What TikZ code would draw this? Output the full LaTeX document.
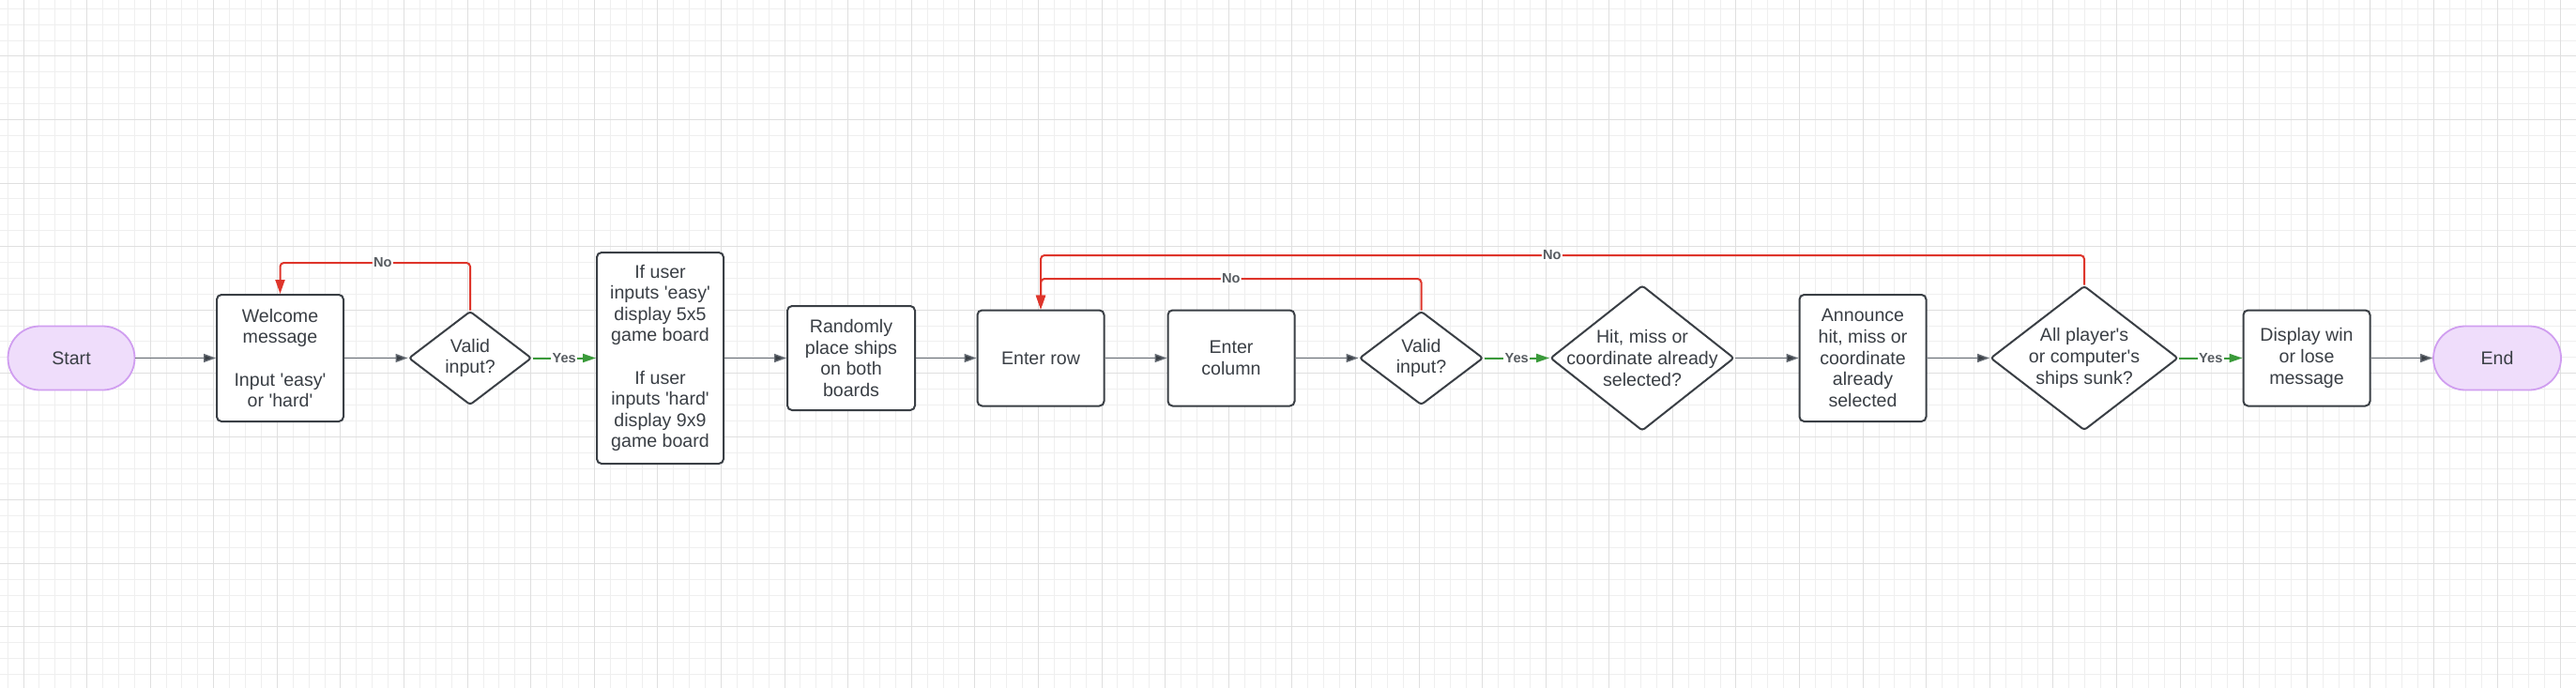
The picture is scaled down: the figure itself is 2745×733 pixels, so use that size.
\documentclass[tikz,border=0pt]{standalone}
\usepackage{fontspec}
\setmainfont{Liberation Sans}
\usetikzlibrary{arrows.meta,shapes.geometric,positioning}
\definecolor{ink}{RGB}{58,63,69}
\definecolor{wire}{RGB}{100,106,114}
\definecolor{nored}{RGB}{222,53,43}
\definecolor{yesgreen}{RGB}{58,154,58}
\definecolor{termfill}{RGB}{239,221,251}
\definecolor{termline}{RGB}{208,158,240}
\definecolor{gridminor}{RGB}{239,239,239}
\definecolor{gridmajor}{RGB}{223,223,223}
\newcommand{\sq}{\textquotesingle}

\begin{document}
\begin{tikzpicture}[x=0.5pt,y=-0.5pt]
\tikzstyle{txt}=[align=center, text=ink, inner sep=0pt, font=\fontsize{9.8}{11.3}\selectfont]
\tikzstyle{box}=[txt, draw=ink, fill=white, line width=1pt, rounded corners=2.5pt, minimum width=67.5pt]
\tikzstyle{dia}=[diamond, draw=ink, fill=white, line width=1pt, rounded corners=1.5pt, inner sep=0pt]
\tikzstyle{term}=[txt, draw=termline, fill=termfill, line width=0.9pt, rounded corners=17pt, minimum height=34pt]
\tikzstyle{flw}=[draw=wire, line width=0.7pt, -{Triangle[length=6.5pt,width=4.5pt,fill=ink]}]
\tikzstyle{yflw}=[draw=yesgreen, line width=1pt, -{Triangle[length=7pt,width=4.5pt]}]
\tikzstyle{nflw}=[draw=nored, line width=1pt, rounded corners=2pt, -{Triangle[length=7.5pt,width=5pt]}]
\tikzstyle{lbl}=[midway, fill=white, inner sep=0.6pt, text=ink!85, font=\fontsize{7.3}{8}\selectfont\bfseries]
\useasboundingbox (0,0) rectangle (2745,733);
% background grid
\foreach \k in {-1,...,160}{\draw[gridminor, line width=0.5pt] ({25+16.8975*\k},0) -- ++(0,733);}
\foreach \k in {-3,...,39}{\draw[gridminor, line width=0.5pt] (0,{60+16.8875*\k}) -- ++(2745,0);}
\foreach \k in {0,4,...,160}{\draw[gridmajor, line width=0.5pt] ({25+16.8975*\k},0) -- ++(0,733);}
\foreach \k in {0,4,...,36}{\draw[gridmajor, line width=0.5pt] (0,{60+16.8875*\k}) -- ++(2745,0);}
% steps
\node[term, minimum width=67.5pt] (start) at (76,381.5) {Start};
\node[box, minimum height=67.5pt] (welcome) at (298.5,381.5) {Welcome\\message\\[11.3pt]Input \sq easy\sq\\or \sq hard\sq};
\node[dia, minimum width=65.5pt, minimum height=50pt, label={[txt]center:Valid\\input?}] (valid1) at (501,381.5) {};
\node[box, minimum height=112.5pt] (ifuser) at (703.5,381.5) {If user\\inputs \sq easy\sq\\display 5x5\\game board\\[11.3pt]If user\\inputs \sq hard\sq\\display 9x9\\game board};
\node[box, minimum width=68pt, minimum height=55.5pt] (place) at (907,381.5) {Randomly\\place ships\\on both\\boards};
\node[box, minimum height=51pt] (row) at (1109,381.5) {Enter row};
\node[box, minimum height=51pt] (col) at (1312,381.5) {Enter\\column};
\node[dia, minimum width=66pt, minimum height=50pt, label={[txt]center:Valid\\input?}] (valid2) at (1514.5,381.5) {};
\node[dia, minimum width=98pt, minimum height=77.5pt, label={[txt]center:Hit, miss or\\coordinate already\\selected?}] (hit) at (1750,381.5) {};
\node[box, minimum height=67.5pt] (announce) at (1985,381.5) {Announce\\hit, miss or\\coordinate\\already\\selected};
\node[dia, minimum width=100pt, minimum height=77pt, label={[txt]center:All player\sq s\\or computer\sq s\\ships sunk?}] (sunk) at (2221,381.5) {};
\node[box, minimum height=51pt] (display) at (2458,381.5) {Display win\\or lose\\message};
\node[term, minimum width=68pt] (stop) at (2661,381.5) {End};
% connectors
\foreach \i/\j in {start/welcome, welcome/valid1, ifuser/place, place/row, row/col, col/valid2, hit/announce, announce/sunk, display/stop}{\draw[flw] (\i) -- (\j);}
\foreach \i/\j in {valid1/ifuser, valid2/hit, sunk/display}{\draw[yflw] (\i) -- node[lbl]{Yes} (\j);}
\coordinate (b1) at (298.5,280);
\coordinate (b2) at (1109,297);
\coordinate (b3) at (1109,272);
\draw[nflw] (valid1.north) -- (valid1.north |- b1) -- node[lbl, pos=0.46]{No} (b1) -- (welcome.north);
\draw[nflw] (valid2.north) -- (valid2.north |- b2) -- node[lbl]{No} (b2) -- (row.north);
\draw[nflw] (sunk.north) -- (sunk.north |- b3) -- node[lbl, pos=0.51]{No} (b3) -- (row.north);
\end{tikzpicture}
\end{document}
